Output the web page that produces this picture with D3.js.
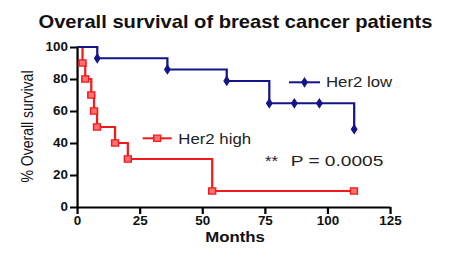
<!DOCTYPE html>
<html><head><meta charset="utf-8">
<script src="https://cdn.jsdelivr.net/npm/d3@7"></script>
<style>html,body{margin:0;padding:0;background:#fff;overflow:hidden}</style>
</head><body>
<script>
// ---- data ----
const lowMonths = [0, 8.1, 36.1, 59.8, 76.8, 86.8, 96.8, 110.7];
const lowSurv   = [100, 92.9, 86.0, 78.8, 64.8, 64.8, 64.8, 48.6];
const highMonths = [0, 2.2, 3.3, 5.7, 6.8, 8.0, 15.2, 20.3, 54.0, 110.6];
const highSurv   = [100, 90, 80, 70, 60, 50, 40, 30, 10, 10];
const xTicks = [0, 25, 50, 75, 100, 125];
const yTicks = [0, 20, 40, 60, 80, 100];
const seriesNames = ["Her2 low", "Her2 high"];
const titleText = "Overall survival of breast cancer patients";
const xLabel = "Months";
const yLabel = "% Overall survival";
const pText = "P = 0.0005";
const starText = "**";

// ---- layout ----
const W = 449, H = 260, SX = 449 / 401; // reference is horizontally stretched
const VW = W / SX;
const p = v => v / SX;
const FONT = "'Liberation Sans', Arial, Helvetica, sans-serif";
const BLUE = "#15158a", RED = "#f21a1a";

const svg = d3.select("body").append("svg")
  .attr("width", W).attr("height", H)
  .attr("viewBox", `0 0 ${VW} ${H}`)
  .attr("preserveAspectRatio", "none")
  .style("display", "block");

const x = d3.scaleLinear().domain([0, 125]).range([p(77), p(390)]);
const y = d3.scaleLinear().domain([0, 100]).range([207, 47]);

// title
svg.append("text").attr("x", p(235.5)).attr("y", 28)
  .attr("text-anchor", "middle").attr("font-family", FONT)
  .attr("font-weight", "bold").attr("font-size", 18).attr("fill", "#111")
  .text(titleText);

// axes
const gx = svg.append("g").attr("transform", `translate(0,${y(0)})`)
  .call(d3.axisBottom(x).tickValues(xTicks).tickSize(7).tickSizeOuter(0).tickPadding(2));
const gy = svg.append("g").attr("transform", `translate(${x(0)},0)`)
  .call(d3.axisLeft(y).tickValues(yTicks).tickSize(p(7)).tickSizeOuter(0).tickPadding(p(2)));
[gx, gy].forEach(g => {
  g.selectAll("path,line").attr("stroke", "#000").attr("stroke-width", 2);
  g.selectAll("text").attr("font-family", FONT).attr("font-weight", "bold")
    .attr("font-size", 12).attr("fill", "#111");
});
gx.select(".domain").attr("stroke-width", 2.2);

// axis titles
svg.append("text").attr("x", p(235)).attr("y", 242)
  .attr("text-anchor", "middle").attr("font-family", FONT)
  .attr("font-weight", "bold").attr("font-size", 15).attr("fill", "#111")
  .text(xLabel);
svg.append("text")
  .attr("transform", `translate(${p(33)},126.5) rotate(-90)`)
  .attr("text-anchor", "middle").attr("font-family", FONT)
  .attr("font-size", 14).attr("fill", "#111")
  .text(yLabel);

// survival curves
const line = d3.line().x(d => x(d[0])).y(d => y(d[1])).curve(d3.curveStepAfter);
const lowPts = lowMonths.map((m, i) => [m, lowSurv[i]]);
const highPts = highMonths.map((m, i) => [m, highSurv[i]]);

svg.append("path").datum(highPts).attr("d", line)
  .attr("fill", "none").attr("stroke", RED).attr("stroke-width", 2);
svg.append("path").datum(lowPts).attr("d", line)
  .attr("fill", "none").attr("stroke", BLUE).attr("stroke-width", 2);

const sq = d3.symbol().type(d3.symbolSquare).size(38);
const dia = d3.symbol().type(d3.symbolDiamond).size(22);

svg.append("g").selectAll("path").data(highPts.slice(1)).join("path")
  .attr("d", sq).attr("transform", d => `translate(${x(d[0])},${y(d[1])})`)
  .attr("fill", "#ff7070").attr("stroke", RED).attr("stroke-width", 1.3);
svg.append("g").selectAll("path").data(lowPts.slice(1)).join("path")
  .attr("d", dia).attr("transform", d => `translate(${x(d[0])},${y(d[1])})`)
  .attr("fill", BLUE).attr("stroke", BLUE).attr("stroke-width", 1);

// legends
function legend(name, color, sym, fill, x1, x2, ly, tx, tb) {
  svg.append("line").attr("x1", p(x1)).attr("x2", p(x2)).attr("y1", ly).attr("y2", ly)
    .attr("stroke", color).attr("stroke-width", 2);
  svg.append("path").attr("d", sym).attr("transform", `translate(${p((x1 + x2) / 2)},${ly})`)
    .attr("fill", fill).attr("stroke", color).attr("stroke-width", sym === sq ? 1.3 : 1);
  svg.append("text").attr("x", p(tx)).attr("y", tb).attr("font-family", FONT)
    .attr("font-size", 15).attr("fill", "#222").text(name);
}
legend(seriesNames[0], BLUE, dia, BLUE, 289, 320, 82.3, 326, 87.3);
legend(seriesNames[1], RED, sq, "#ff7070", 142.7, 171.7, 138.3, 178.3, 144);

// p-value
svg.append("text").attr("x", p(265)).attr("y", 166).attr("font-family", FONT)
  .attr("font-size", 15).attr("fill", "#222").text(starText);
svg.append("text").attr("x", p(290.7)).attr("y", 166).attr("font-family", FONT)
  .attr("font-size", 15).attr("fill", "#222")
  .attr("textLength", p(92.6)).attr("lengthAdjust", "spacingAndGlyphs").text(pText);
</script>
</body></html>
